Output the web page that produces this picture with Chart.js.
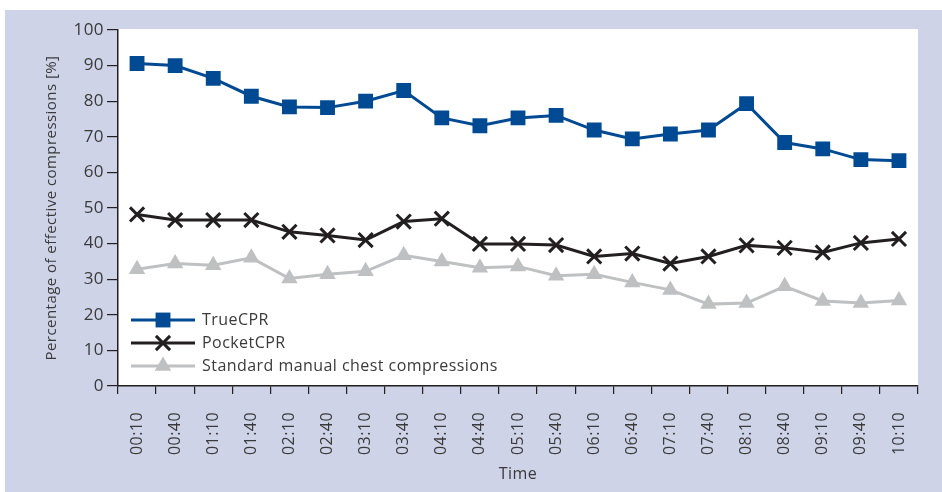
<!DOCTYPE html>
<html>
<head>
<meta charset="utf-8">
<script src="https://cdn.jsdelivr.net/npm/chart.js@4"></script>
<style>
    html, body { margin: 0; padding: 0; background: #ffffff; }
    #frame { position: absolute; left: 5px; top: 10px; width: 937px; height: 482px; background: #ced3e7; }
    #wrap { position: absolute; left: 0; top: 0; width: 942px; height: 492px; }
</style>
</head>
<body>
<div id="frame"></div>
<div id="wrap"><canvas id="cprChart" width="942" height="492"></canvas></div>
<script>
var timeLabels = ['00:10', '00:40', '01:10', '01:40', '02:10', '02:40', '03:10', '03:40', '04:10', '04:40',
    '05:10', '05:40', '06:10', '06:40', '07:10', '07:40', '08:10', '08:40', '09:10', '09:40', '10:10'];

var trueCpr = [90.6, 90.0, 86.4, 81.4, 78.4, 78.2, 80.0, 83.0, 75.3, 73.1,
    75.3, 76.0, 71.9, 69.4, 70.8, 71.9, 79.3, 68.4, 66.6, 63.6, 63.3];

var pocketCpr = [48.2, 46.6, 46.6, 46.6, 43.3, 42.3, 41.0, 46.2, 47.0, 39.9,
    39.9, 39.6, 36.4, 37.2, 34.4, 36.4, 39.5, 38.8, 37.5, 40.2, 41.3];

var standardCpr = [32.8, 34.4, 33.9, 36.0, 30.2, 31.4, 32.2, 36.7, 35.0, 33.2,
    33.6, 31.0, 31.4, 29.1, 27.0, 23.0, 23.3, 28.0, 23.9, 23.3, 24.0];

var yTicks = [0, 10, 20, 30, 40, 50, 60, 70, 80, 90, 100];

(function () {
    var cprChart = {
        fontFamily: '"Open Sans", "DejaVu Sans", sans-serif',
        textColor: '#3a3a3a',
        axisColor: '#231f20',

        // the printed font runs a bit wider than Open Sans
        textSpacing: {
            id: 'textSpacing',
            beforeUpdate: function (chart) {
                chart.ctx.letterSpacing = '0.45px';
            },
            beforeDraw: function (chart) {
                chart.ctx.letterSpacing = '0.45px';
            }
        },

        plotBackground: {
            id: 'plotBackground',
            beforeDraw: function (chart) {
                var area = chart.chartArea;
                var ctx = chart.ctx;
                ctx.save();
                ctx.fillStyle = '#ffffff';
                ctx.fillRect(area.left, area.top - 1, area.right - area.left, area.bottom - area.top + 1);
                ctx.restore();
            }
        },

        // legend sits inside the plot, lower left
        innerLegend: {
            id: 'innerLegend',
            afterDatasetsDraw: function (chart) {
                var ctx = chart.ctx;
                var x0 = chart.chartArea.left + 13;
                var y0 = chart.chartArea.bottom - 66;

                ctx.save();
                chart.data.datasets.forEach(function (ds, i) {
                    var y = y0 + i * 23;
                    ctx.strokeStyle = ds.borderColor;
                    ctx.lineWidth = ds.borderWidth;
                    ctx.beginPath();
                    ctx.moveTo(x0, y);
                    ctx.lineTo(x0 + 64, y);
                    ctx.stroke();
                    ctx.fillStyle = ds.pointBackgroundColor;
                    ctx.strokeStyle = ds.pointBorderColor;
                    ctx.lineWidth = ds.pointBorderWidth;
                    Chart.helpers.drawPoint(ctx, {
                        pointStyle: ds.pointStyle,
                        radius: ds.pointRadius,
                        rotation: 0,
                        borderWidth: ds.pointBorderWidth
                    }, x0 + 32, y);
                    ctx.fillStyle = cprChart.textColor;
                    ctx.font = '16px ' + cprChart.fontFamily;
                    ctx.textBaseline = 'middle';
                    ctx.fillText(ds.label, x0 + 71, y);
                });
                ctx.restore();
            }
        },

        init: function () {
            var self = this;

            new Chart(document.getElementById('cprChart'), {
                type: 'line',
                data: {
                    labels: timeLabels,
                    datasets: [{
                        label: 'TrueCPR',
                        data: trueCpr,
                        borderColor: '#004a93',
                        borderWidth: 3,
                        pointStyle: 'rect',
                        pointRadius: 10.5,
                        pointBackgroundColor: '#004a93',
                        pointBorderColor: '#004a93',
                        pointBorderWidth: 0,
                        tension: 0
                    }, {
                        label: 'PocketCPR',
                        data: pocketCpr,
                        borderColor: '#231f20',
                        borderWidth: 3,
                        pointStyle: 'crossRot',
                        pointRadius: 10,
                        pointBackgroundColor: '#231f20',
                        pointBorderColor: '#231f20',
                        pointBorderWidth: 3,
                        tension: 0
                    }, {
                        label: 'Standard manual chest compressions',
                        data: standardCpr,
                        borderColor: '#bfc0c2',
                        borderWidth: 3,
                        pointStyle: 'triangle',
                        pointRadius: 9.5,
                        pointBackgroundColor: '#bfc0c2',
                        pointBorderColor: '#bfc0c2',
                        pointBorderWidth: 0,
                        tension: 0
                    }]
                },
                options: {
                    responsive: false,
                    animation: false,
                    events: [],
                    layout: {
                        padding: { left: 0, right: 24, top: 30, bottom: 0 }
                    },
                    scales: {
                        x: {
                            offset: true,
                            grid: {
                                offset: true,
                                drawOnChartArea: false,
                                color: self.axisColor,
                                tickLength: 8,
                                lineWidth: 1.2
                            },
                            border: { color: self.axisColor, width: 1.5 },
                            ticks: {
                                minRotation: 90,
                                maxRotation: 90,
                                padding: 18,
                                color: self.textColor,
                                font: { family: self.fontFamily, size: 16 }
                            },
                            title: {
                                display: true,
                                text: 'Time',
                                color: self.textColor,
                                font: { family: self.fontFamily, size: 16 },
                                padding: { top: 0, bottom: 8 }
                            },
                            afterFit: function (scale) {
                                scale.height = 106;
                            }
                        },
                        y: {
                            min: 0,
                            max: 100,
                            afterBuildTicks: function (scale) {
                                scale.ticks = yTicks.map(function (v) { return { value: v }; });
                            },
                            grid: {
                                drawOnChartArea: false,
                                color: self.axisColor,
                                tickLength: 11,
                                lineWidth: 1.2
                            },
                            border: { color: self.axisColor, width: 1.5 },
                            ticks: {
                                padding: 3,
                                color: self.textColor,
                                font: { family: self.fontFamily, size: 17 }
                            },
                            title: {
                                display: true,
                                text: 'Percentage of effective compressions [%]',
                                color: self.textColor,
                                font: { family: self.fontFamily, size: 15 },
                                padding: { top: 43, bottom: 0 }
                            },
                            afterFit: function (scale) {
                                scale.width = 118;
                            }
                        }
                    },
                    plugins: {
                        legend: { display: false },
                        tooltip: { enabled: false }
                    }
                },
                plugins: [self.textSpacing, self.plotBackground, self.innerLegend]
            });
        }
    };

    cprChart.init();
})();
</script>
</body>
</html>
